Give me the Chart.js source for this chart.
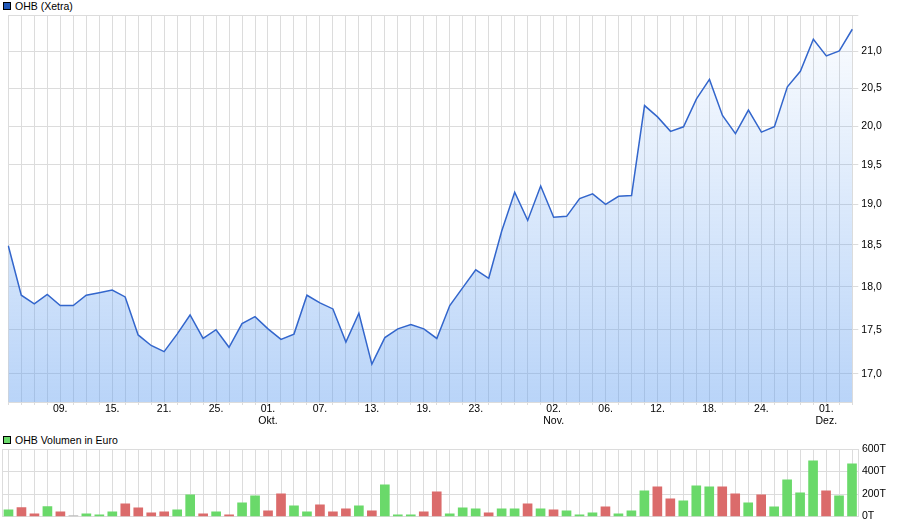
<!DOCTYPE html>
<html>
<head>
<meta charset="utf-8">
<script src="https://cdn.jsdelivr.net/npm/chart.js@4.4.1/dist/chart.umd.min.js"></script>
<style>
  body { margin: 0; background: #fff; font-family: "Liberation Sans", Arial, sans-serif; }
  #wrap { position: relative; width: 900px; height: 526px; }
  canvas { position: absolute; left: 0; }
  .legend { position: absolute; left: 3px; font-size: 10.5px; color: #000; line-height: 12px; }
  .legend span.box { display: inline-block; width: 6px; height: 6px; border: 1px solid #000; margin-right: 4px; vertical-align: 0px; }
</style>
</head>
<body>
<div id="wrap">
  <div class="legend" style="top:0px"><span class="box" style="background:#2158b8"></span>OHB (Xetra)</div>
  <canvas id="priceChart" width="900" height="430" style="top:0"></canvas>
  <div class="legend" style="top:434px"><span class="box" style="background:#6ad96a"></span>OHB Volumen in Euro</div>
  <canvas id="volChart" width="900" height="96" style="top:430px"></canvas>
</div>
<script>
// trading days, 03.09. - 03.12.
const dates = ['03.09.', '04.09.', '07.09.', '08.09.', '09.09.', '10.09.', '11.09.', '14.09.', '15.09.', '16.09.',
  '17.09.', '18.09.', '21.09.', '22.09.', '23.09.', '24.09.', '25.09.', '28.09.', '29.09.', '30.09.',
  '01.10.', '02.10.', '05.10.', '06.10.', '07.10.', '08.10.', '09.10.', '12.10.', '13.10.', '14.10.',
  '15.10.', '16.10.', '19.10.', '20.10.', '21.10.', '22.10.', '23.10.', '26.10.', '27.10.', '28.10.',
  '29.10.', '30.10.', '02.11.', '03.11.', '04.11.', '05.11.', '06.11.', '09.11.', '10.11.', '11.11.',
  '12.11.', '13.11.', '16.11.', '17.11.', '18.11.', '19.11.', '20.11.', '23.11.', '24.11.', '25.11.',
  '26.11.', '27.11.', '30.11.', '01.12.', '02.12.', '03.12.'];

const prices = [18.49, 17.90, 17.80, 17.91, 17.78, 17.78, 17.90, 17.93, 17.96, 17.88,
  17.44, 17.32, 17.25, 17.45, 17.67, 17.40, 17.50, 17.30, 17.57, 17.65,
  17.51, 17.39, 17.45, 17.90, 17.81, 17.74, 17.36, 17.69, 17.11, 17.41,
  17.51, 17.56, 17.51, 17.40, 17.78, 17.99, 18.20, 18.10, 18.67, 19.15,
  18.80, 19.23, 18.84, 18.85, 19.07, 19.13, 19.00, 19.10, 19.11, 20.27,
  20.12, 19.93, 19.99, 20.36, 20.62, 20.14, 19.90, 20.21, 19.92, 19.99,
  20.52, 20.73, 21.17, 20.94, 21.01, 21.31];

// Euro
const volumes = [60000, 80000, 24000, 89000, 42000, 9000, 24000, 15000, 42000, 113000,
  77000, 33000, 42000, 60000, 193000, 24000, 42000, 15000, 122000, 184000,
  51000, 202000, 95000, 42000, 104000, 42000, 68000, 95000, 51000, 282000,
  15000, 15000, 42000, 220000, 24000, 77000, 68000, 33000, 68000, 68000,
  113000, 68000, 60000, 51000, 15000, 33000, 86000, 24000, 51000, 228000,
  264000, 157000, 140000, 273000, 264000, 264000, 202000, 122000, 193000, 86000,
  326000, 211000, 495000, 228000, 184000, 468000];

const tickDates = ['09.09.', '15.09.', '21.09.', '25.09.', '01.10.', '07.10.', '13.10.', '19.10.',
  '23.10.', '02.11.', '06.11.', '12.11.', '18.11.', '24.11.', '01.12.'];
const tickMonths = ['', '', '', '', 'Okt.', '', '', '', '', 'Nov.', '', '', '', '', 'Dez.'];

const priceTicks = [17.0, 17.5, 18.0, 18.5, 19.0, 19.5, 20.0, 20.5, 21.0];
const priceMin = 16.69;
const priceMax = 21.51;
const volTicks = [0, 200000, 400000, 600000];

const gridColor = '#dcdcdc';
const tickFont = { family: '"Liberation Sans", Arial, sans-serif', size: 10.5, lineHeight: '12px' };

function fillGradient(context) {
  const area = context.chart.chartArea;
  if (!area) return null;
  const g = context.chart.ctx.createLinearGradient(0, area.top, 0, area.bottom);
  g.addColorStop(0, 'rgba(100,160,240,0.02)');
  g.addColorStop(1, 'rgba(100,160,240,0.45)');
  return g;
}

function barColor(i) {
  if (i === 0 || prices[i] > prices[i - 1]) return '#6ad96a';
  if (prices[i] < prices[i - 1]) return '#db6b6b';
  return '#bdbdbd';
}

new Chart(document.getElementById('priceChart'), {
  type: 'line',
  data: {
    labels: dates,
    datasets: [{
      label: 'OHB (Xetra)',
      data: prices,
      borderColor: '#3366cc',
      borderWidth: 1.5,
      pointRadius: 0,
      tension: 0,
      fill: 'start',
      backgroundColor: fillGradient
    }]
  },
  options: {
    responsive: false,
    animation: false,
    layout: { padding: { top: 15, left: 8.3, right: 0, bottom: 0 } },
    plugins: { legend: { display: false }, tooltip: { enabled: false } },
    scales: {
      x: {
        type: 'category',
        offset: false,
        grid: { color: gridColor, tickLength: 3 },
        border: { color: gridColor },
        ticks: {
          autoSkip: false,
          maxRotation: 0,
          padding: -2,
          color: '#000',
          font: tickFont,
          callback: function (value) {
            const label = this.getLabelForValue(value);
            const k = tickDates.indexOf(label);
            if (k < 0) return '';
            const day = label.slice(0, 3);
            return tickMonths[k] ? [day, tickMonths[k]] : day;
          }
        },
        afterFit: s => { s.height = 28; }
      },
      y: {
        type: 'logarithmic',
        position: 'right',
        min: priceMin,
        max: priceMax,
        bounds: 'data',
        grid: { color: gridColor, tickLength: 6 },
        border: { color: gridColor },
        afterBuildTicks: s => {
          s.ticks = priceTicks.map(v => ({ value: v })).concat([{ value: priceMax }]);
        },
        ticks: {
          padding: 3,
          color: '#000',
          font: tickFont,
          callback: v => (v === priceMax ? '' : v.toFixed(1).replace('.', ','))
        },
        afterFit: s => { s.width = 47.7; }
      }
    }
  }
});

new Chart(document.getElementById('volChart'), {
  type: 'bar',
  data: {
    labels: dates,
    datasets: [{
      label: 'OHB Volumen in Euro',
      data: volumes,
      backgroundColor: volumes.map((v, i) => barColor(i)),
      barThickness: 9,
      yAxisID: 'y'
    }]
  },
  options: {
    responsive: false,
    animation: false,
    layout: { padding: { top: 19, left: 2, right: 0, bottom: 0 } },
    plugins: { legend: { display: false }, tooltip: { enabled: false } },
    scales: {
      x: {
        type: 'category',
        offset: true,
        grid: { color: gridColor, offset: false, drawTicks: false },
        border: { color: gridColor },
        ticks: { display: false },
        afterFit: s => { s.height = 9; }
      },
      y: {
        position: 'right',
        min: 0,
        max: 600000,
        grid: { color: gridColor, drawTicks: false },
        border: { color: gridColor },
        afterBuildTicks: s => { s.ticks = volTicks.map(v => ({ value: v })); },
        ticks: {
          padding: 3.4,
          color: '#000',
          font: tickFont,
          callback: v => (v / 1000) + 'T'
        },
        afterFit: s => { s.width = 41.5; }
      },
      yl: {
        position: 'left',
        grid: { display: false, drawTicks: false },
        border: { display: true, color: gridColor },
        ticks: { display: false },
        afterFit: s => { s.width = 0; }
      }
    }
  }
});
</script>
</body>
</html>
